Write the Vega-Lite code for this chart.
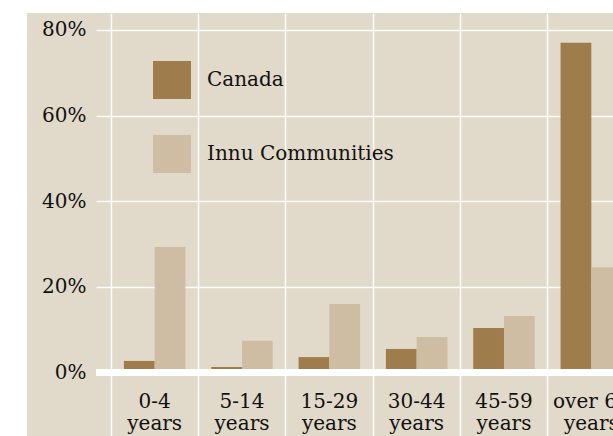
{
  "$schema": "https://vega.github.io/schema/vega-lite/v6.json",
  "padding": {"left": 27, "top": 13, "right": 0, "bottom": 0},
  "autosize": {"type": "pad"},
  "background": "white",
  "spacing": 0,
  "bounds": "flush",
  "config": {"font": "DejaVu Serif", "view": {"stroke": null}},
  "data": {"values": [
    {"age": "0-4 years", "group": "Canada", "value": 2.7},
    {"age": "0-4 years", "group": "Innu Communities", "value": 29.3},
    {"age": "5-14 years", "group": "Canada", "value": 1.3},
    {"age": "5-14 years", "group": "Innu Communities", "value": 7.4},
    {"age": "15-29 years", "group": "Canada", "value": 3.6},
    {"age": "15-29 years", "group": "Innu Communities", "value": 16.0},
    {"age": "30-44 years", "group": "Canada", "value": 5.5},
    {"age": "30-44 years", "group": "Innu Communities", "value": 8.3},
    {"age": "45-59 years", "group": "Canada", "value": 10.4},
    {"age": "45-59 years", "group": "Innu Communities", "value": 13.2},
    {"age": "over 65 years", "group": "Canada", "value": 77.0},
    {"age": "over 65 years", "group": "Innu Communities", "value": 24.6}
  ]},
  "hconcat": [
    {
      "width": 69,
      "height": 423,
      "view": {"fill": "#e1d9c9", "stroke": null},
      "mark": {"type": "point", "opacity": 0},
      "encoding": {}
    },
    {
      "width": 554,
      "height": 423,
      "view": {"fill": "#e1d9c9", "stroke": null},
      "layer": [
        {
          "mark": {"type": "bar"},
          "encoding": {
            "x": {
              "field": "age", "type": "nominal", "sort": null,
              "scale": {"paddingInner": 0, "paddingOuter": 0.172},
              "axis": {
                "orient": "bottom", "offset": -63.5, "title": null,
                "domain": false, "ticks": false, "labelAngle": 0,
                "grid": true, "gridColor": "white", "gridWidth": 1.5, "gridOpacity": 1,
                "bandPosition": 0,
                "labelPadding": 19, "labelFontSize": 20, "labelLineHeight": 22,
                "labelColor": "#111", "labelOverlap": false, "labelFlush": false,
                "labelExpr": "[replace(datum.value, ' years', ''), 'years']"
              }
            },
            "xOffset": {
              "field": "group", "type": "nominal",
              "sort": ["Canada", "Innu Communities"],
              "scale": {"paddingInner": 0, "paddingOuter": 0.42}
            },
            "y": {
              "field": "value", "type": "quantitative",
              "scale": {"domain": [-14.83, 83.97], "nice": false, "zero": false},
              "axis": {
                "title": null, "values": [0, 20, 40, 60, 80],
                "labelExpr": "datum.value + '%'",
                "domain": false, "ticks": false,
                "grid": true, "gridColor": "white", "gridWidth": 1.5, "gridOpacity": 1,
                "labelPadding": 10, "labelFontSize": 20, "labelColor": "#111"
              }
            },
            "y2": {"datum": 0},
            "color": {
              "field": "group", "type": "nominal",
              "scale": {"domain": ["Canada", "Innu Communities"], "range": ["#9e7c4b", "#cfbda3"]},
              "legend": {
                "title": null, "orient": "none", "legendX": 126, "legendY": 48,
                "symbolType": "square", "symbolSize": 1444, "symbolStrokeWidth": 0,
                "symbolOpacity": 1, "labelFontSize": 20, "labelColor": "#111",
                "labelOffset": 16, "rowPadding": 36, "padding": 0, "labelLimit": 400
              }
            }
          }
        },
        {
          "mark": {"type": "rule", "color": "white", "strokeWidth": 6},
          "encoding": {"y": {"datum": 0}}
        }
      ]
    }
  ]
}
